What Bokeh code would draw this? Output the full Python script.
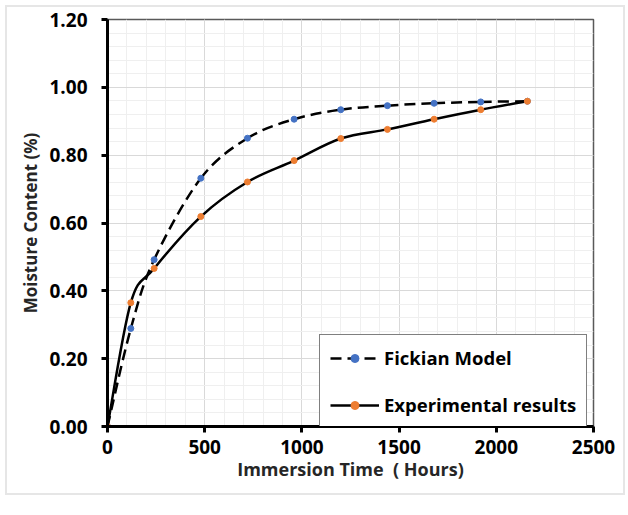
from bokeh.plotting import figure
from bokeh.layouts import column
from bokeh.models import Legend, LegendItem, Range1d, SingleIntervalTicker, ColumnDataSource
from bokeh.embed import file_html
from bokeh.resources import INLINE

# ---- data ----
hours = [0, 120, 240, 480, 720, 960, 1200, 1440, 1680, 1920, 2160]
fickian = [0.0, 0.289, 0.492, 0.732, 0.850, 0.906, 0.934, 0.946, 0.953, 0.957, 0.959]
experimental = [0.0, 0.365, 0.466, 0.619, 0.721, 0.784, 0.849, 0.876, 0.906, 0.934, 0.959]
x_ticks = [0, 500, 1000, 1500, 2000, 2500]
y_ticks = [0.0, 0.2, 0.4, 0.6, 0.8, 1.0, 1.2]

FONT = "Open Sans"
BLUE = "#4472C4"
ORANGE = "#ED7D31"


def smooth_segments(xs, ys):
    """Excel-style smoothed line: cubic Bezier control points (Catmull-Rom, 1/6)."""
    n = len(xs)
    d = dict(x0=[], y0=[], x1=[], y1=[], cx0=[], cy0=[], cx1=[], cy1=[])
    for i in range(n - 1):
        xp, yp = (xs[i - 1], ys[i - 1]) if i > 0 else (xs[i], ys[i])
        xn, yn = (xs[i + 2], ys[i + 2]) if i + 2 < n else (xs[i + 1], ys[i + 1])
        d["x0"].append(xs[i]); d["y0"].append(ys[i])
        d["x1"].append(xs[i + 1]); d["y1"].append(ys[i + 1])
        d["cx0"].append(xs[i] + (xs[i + 1] - xp) / 6.0)
        d["cy0"].append(ys[i] + (ys[i + 1] - yp) / 6.0)
        d["cx1"].append(xs[i + 1] - (xn - xs[i]) / 6.0)
        d["cy1"].append(ys[i + 1] - (yn - ys[i]) / 6.0)
    return ColumnDataSource(d)


p = figure(width=616, height=486, output_backend="svg", toolbar_location=None,
           x_range=Range1d(0, 2500), y_range=Range1d(0, 1.2),
           frame_width=486, frame_height=407,
           min_border_left=100, min_border_right=30, min_border_top=12, min_border_bottom=67)

p.background_fill_color = "white"
p.border_fill_color = "white"
p.outline_line_color = "#595959"
p.outline_line_width = 1.5

# grid
p.xaxis.ticker = x_ticks
p.yaxis.ticker = y_ticks
p.xgrid.ticker = SingleIntervalTicker(interval=500, num_minor_ticks=5)
p.ygrid.ticker = SingleIntervalTicker(interval=0.2, num_minor_ticks=5)
for g in (p.xgrid, p.ygrid):
    g.grid_line_color = "#d9d9d9"
    g.grid_line_width = 1
    g.minor_grid_line_color = "#efefef"
    g.minor_grid_line_width = 1

# axes
for ax in (p.xaxis, p.yaxis):
    ax.axis_line_color = "black"
    ax.axis_line_width = 3
    ax.major_tick_line_color = "black"
    ax.major_tick_line_width = 3
    ax.major_tick_out = 6
    ax.major_tick_in = 0
    ax.minor_tick_line_color = None
    ax.major_label_text_font = FONT
    ax.major_label_text_font_style = "bold"
    ax.major_label_text_font_size = "19px"
    ax.major_label_text_color = "black"
    ax.axis_label_text_font = FONT
    ax.axis_label_text_font_style = "bold"
    ax.axis_label_text_color = "#262626"

p.xaxis.axis_label_text_font_size = "18px"
p.yaxis.axis_label_text_font_size = "17px"
p.xaxis.axis_label = "Immersion Time\u00a0\u00a0( Hours)"
p.yaxis.axis_label = "Moisture Content (%)"
p.yaxis.major_label_overrides = {v: f"{v:.2f}" for v in y_ticks}
p.xaxis.major_label_standoff = 7
p.yaxis.major_label_standoff = 14
p.xaxis.axis_label_standoff = 0
p.yaxis.axis_label_standoff = 4

# curves
fick_src = smooth_segments(hours, fickian)
exp_src = smooth_segments(hours, experimental)
r_fick_line = p.bezier(x0="x0", y0="y0", x1="x1", y1="y1", cx0="cx0", cy0="cy0",
                       cx1="cx1", cy1="cy1", source=fick_src,
                       line_color="black", line_width=2.5, line_dash="11 6")
r_exp_line = p.bezier(x0="x0", y0="y0", x1="x1", y1="y1", cx0="cx0", cy0="cy0",
                      cx1="cx1", cy1="cy1", source=exp_src,
                      line_color="black", line_width=2.5)
r_fick_pts = p.scatter(hours, fickian, size=6, fill_color=BLUE, line_color=BLUE)
r_exp_pts = p.scatter(hours, experimental, size=6, fill_color=ORANGE, line_color=ORANGE)

legend = Legend(items=[
    LegendItem(label="Fickian Model", renderers=[r_fick_line, r_fick_pts]),
    LegendItem(label="Experimental results", renderers=[r_exp_line, r_exp_pts]),
], location=(212, -2))
legend.label_text_font = FONT
legend.label_text_font_style = "bold"
legend.label_text_font_size = "18.5px"
legend.label_text_color = "black"
legend.border_line_color = "black"
legend.border_line_width = 1.5
legend.background_fill_color = "white"
legend.background_fill_alpha = 1
legend.padding = 10
legend.spacing = 22
legend.glyph_width = 49
legend.glyph_height = 20
legend.label_standoff = 5
legend.margin = 0
p.add_layout(legend, "center")

layout = column(p, margin=(5, 0, 0, 5),
                styles={"border": "2px solid #e6e6e6", "background-color": "white"})

open("out.html", "w").write(file_html(layout, INLINE))
